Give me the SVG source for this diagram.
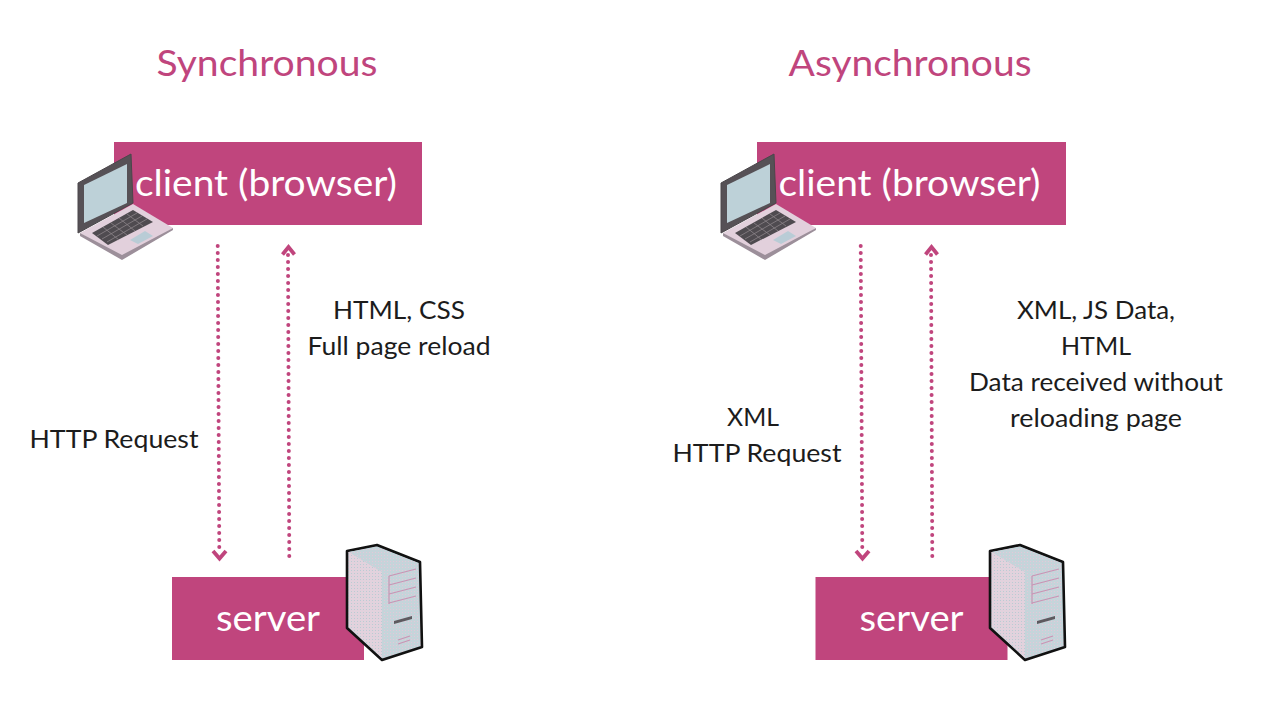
<svg xmlns="http://www.w3.org/2000/svg" width="1274" height="710" viewBox="0 0 1274 710">
<style>
text{font-family:"Lato","Open Sans",sans-serif;text-anchor:middle}
.title{font-size:37px;fill:#c0457d}
.box{fill:#c0457d}
.boxt{fill:#fff}
.lab{font-size:25px;fill:#1c1c1c}
.dot{fill:none;stroke:#c0457d;stroke-width:4;stroke-linecap:round;stroke-dasharray:0 7}
.chev{fill:none;stroke:#c0457d;stroke-width:3.8;stroke-linejoin:miter}
</style>
<defs>
<pattern id="stipple" width="3" height="3" patternUnits="userSpaceOnUse"><rect width="3" height="3" fill="#e2d2dd"/><rect width="1" height="1" fill="#b9ccd3"/></pattern>
<pattern id="stipple2" width="3" height="3" patternUnits="userSpaceOnUse"><rect width="3" height="3" fill="#c5d4da"/><rect width="1" height="1" fill="#e4c8d8"/></pattern>
<g id="laptop">
<polygon points="80,233 133,204 173,228 122,259" fill="#e2d0dc"/>
<polygon points="80,233 122,255 173,228 173,230 122,260 80,236" fill="#9c8f9a"/>
<polygon points="78,183 131,154 133,203 78,233" fill="#565156" stroke="#4a464a" stroke-width="1"/>
<polygon points="84,185 127,164 127,203 84,223" fill="#bdd1d8"/>
<polygon points="92,233 133,210 153,222 108,245" fill="#4f4b50"/>
<path d="M97,236 L137,213 M102,239 L142,216 M107,242 L147,219 M103,227 L119,240 M111,223 L127,235 M119,218 L135,231 M127,214 L143,226" stroke="#8b8489" stroke-width="0.8" fill="none"/>
<polygon points="130,240 145,231 153,236 138,244" fill="#b9ccd6"/>
</g>
<g id="tower">
<polygon points="347,551 377,545 420,562 422,647 382,660 347,628" fill="url(#stipple2)" stroke="#111" stroke-width="2.6" stroke-linejoin="round"/>
<polygon points="349,552 382,572 382,658 349,627" fill="url(#stipple)"/>
<polygon points="349,552 377,547 418,563 382,572" fill="url(#stipple2)"/>
<path d="M389,576 L416,569 M389,585 L416,578 M389,594 L416,587 M389,603 L416,596" stroke="#c994b4" stroke-width="1.2" fill="none"/>
<path d="M389,576 V604" stroke="#c994b4" stroke-width="1.2"/>
<polygon points="394,621 412,616 412,619 394,624" fill="#5d5a5f"/>
<path d="M398,640 L410,636 M398,644 L410,640" stroke="#c994b4" stroke-width="1.2"/>
</g>
<path id="down" class="chev" d="M213,551 L219.500,558.500 L226,551"/>
<path id="up" class="chev" d="M282.500,254.500 L288.500,247 L294.500,254.500"/>
</defs>

<g id="title-sync"><text class="title" x="267" y="76" textLength="221" lengthAdjust="spacingAndGlyphs">Synchronous</text></g>
<g id="title-async"><text class="title" x="910" y="76" textLength="243" lengthAdjust="spacingAndGlyphs">Asynchronous</text></g>

<g id="connectors">
<path class="dot" d="M217.700,246 L219.300,552"/>
<use href="#down"/>
<path class="dot" d="M288,255 L289.300,560"/>
<use href="#up"/>
<path class="dot" d="M860.700,246 L862.300,552"/>
<use href="#down" x="643"/>
<path class="dot" d="M931,255 L932.300,560"/>
<use href="#up" x="643"/>
</g>

<g id="client-sync">
<rect class="box" x="114" y="142" width="308" height="83"/>
<use href="#laptop"/>
<text class="boxt" x="266" y="196" font-size="37" textLength="262" lengthAdjust="spacingAndGlyphs">client (browser)</text>
</g>
<g id="server-sync">
<rect class="box" x="172" y="577" width="192" height="83"/>
<use href="#tower"/>
<text class="boxt" x="268" y="631" font-size="37" textLength="104" lengthAdjust="spacingAndGlyphs">server</text>
</g>
<g id="client-async">
<rect class="box" x="757" y="142" width="309" height="83"/>
<use href="#laptop" x="643"/>
<text class="boxt" x="909.500" y="196" font-size="37" textLength="262" lengthAdjust="spacingAndGlyphs">client (browser)</text>
</g>
<g id="server-async">
<rect class="box" x="815.500" y="577" width="192" height="83"/>
<use href="#tower" x="643"/>
<text class="boxt" x="911.500" y="631" font-size="37" textLength="104" lengthAdjust="spacingAndGlyphs">server</text>
</g>

<g id="labels">
<text class="lab" x="114" y="448" textLength="169" lengthAdjust="spacingAndGlyphs">HTTP Request</text>
<text class="lab" x="399" y="319" textLength="132" lengthAdjust="spacingAndGlyphs">HTML, CSS</text>
<text class="lab" x="399" y="355" textLength="183" lengthAdjust="spacingAndGlyphs">Full page reload</text>
<text class="lab" x="753" y="426" textLength="52" lengthAdjust="spacingAndGlyphs">XML</text>
<text class="lab" x="757" y="462" textLength="169" lengthAdjust="spacingAndGlyphs">HTTP Request</text>
<text class="lab" x="1096" y="319" textLength="158" lengthAdjust="spacingAndGlyphs">XML, JS Data,</text>
<text class="lab" x="1096" y="355" textLength="70" lengthAdjust="spacingAndGlyphs">HTML</text>
<text class="lab" x="1096" y="391" textLength="254" lengthAdjust="spacingAndGlyphs">Data received without</text>
<text class="lab" x="1096" y="427" textLength="172" lengthAdjust="spacingAndGlyphs">reloading page</text>
</g>
</svg>
